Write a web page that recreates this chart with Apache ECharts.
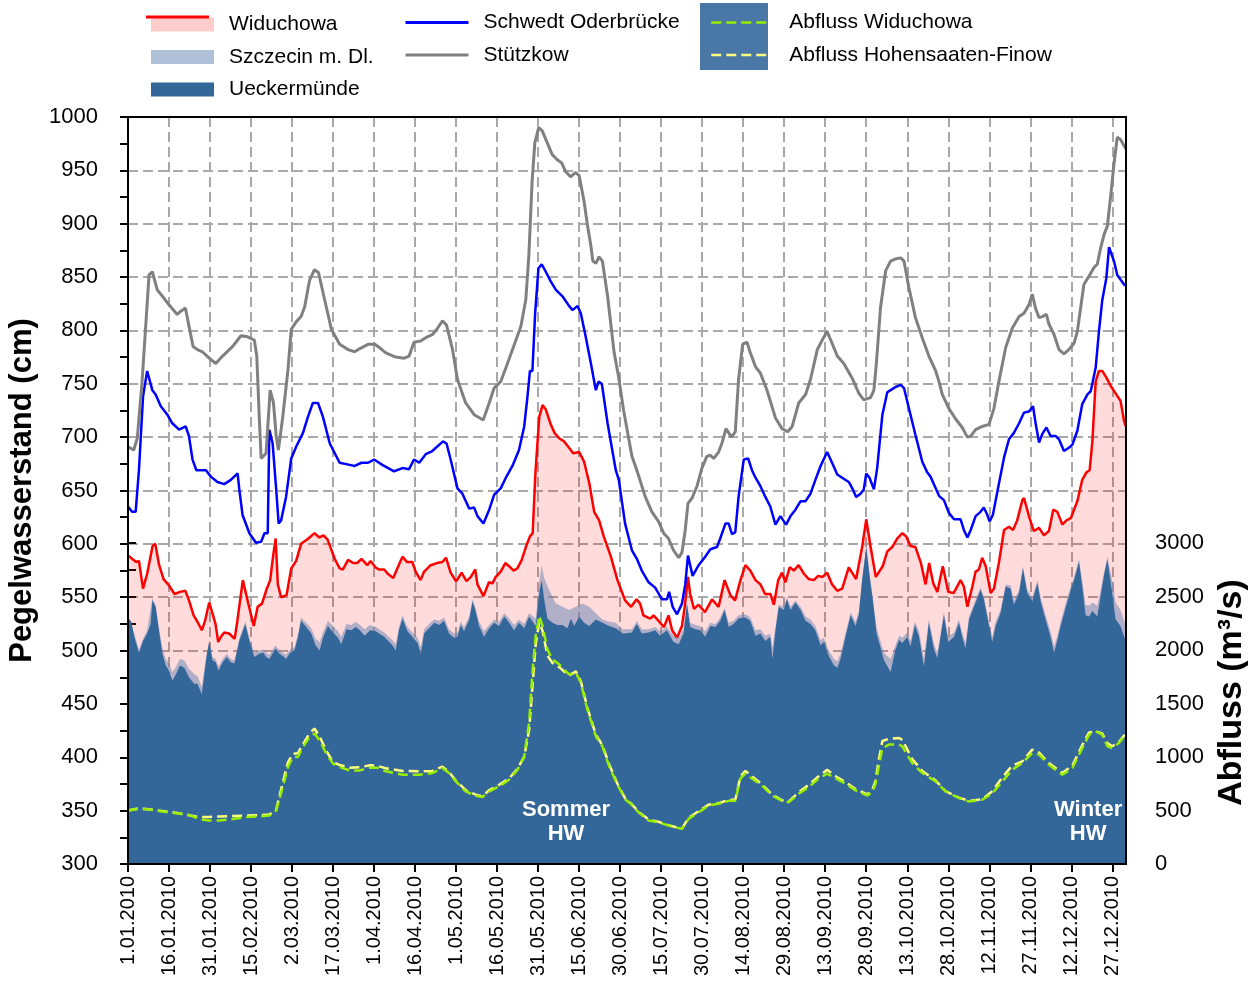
<!DOCTYPE html>
<html>
<head>
<meta charset="utf-8">
<script src="https://cdn.jsdelivr.net/npm/echarts@6/dist/echarts.min.js"></script>
<style>
html,body{margin:0;padding:0;background:#fff;}
#chart{width:1256px;height:983px;}
</style>
</head>
<body>
<div id="chart"></div>
<script>
// ---- Data (x = day of year 2010, 0 = 1 Jan) ----
const xTickStepDays = 15;
const legendNames = ['Widuchowa','Szczecin m. Dl.','Ueckermünde','Schwedt Oderbrücke','Stützkow','Abfluss Widuchowa','Abfluss Hohensaaten-Finow'];

// Pegelwasserstand (cm)
const widuchowa = [[0,589],[1.5,586],[3,583],[4,584],[5.5,558],[7,572],[9,598],[10,600],[11.3,581],[13,567],[15,561],[17,553],[19,555],[21,556],[22.3,547],[24,533],[25.4,527],[27,519],[28.2,528],[29.7,545],[31,534],[32,525],[33,508],[34,513],[35.2,517],[37,516],[39,511],[40,528],[42,566],[44,544],[46,523],[47.4,541],[49,544],[50.5,556],[52,566],[53.2,591],[54,605],[54.8,562],[56,550],[58,552],[59.7,577],[61.5,584],[63.3,600],[66,605],[68.2,610],[70,606],[71.5,608],[73,604],[75.6,586],[77.4,577],[78.6,576],[80.5,585],[82.3,582],[83.8,582],[85.4,586],[87.5,580],[88.7,584],[90.5,578],[91.8,576],[93.7,576],[95,572],[97,568],[99,580],[100.4,588],[102,583],[104,583],[105.2,574],[107,566],[108.3,574],[110.7,580],[113,582],[115,583],[116.3,587],[118,573],[120,565],[122,573],[123.8,565],[125.4,569],[127,576],[127.8,562],[130,551],[132,564],[133.3,563],[134.5,569],[136.3,574],[138,582],[139.4,579],[141,575],[142.4,577],[144,585],[145.5,597],[147,607],[148,610],[149,666],[150.4,719],[151.6,730],[152.8,726],[154.6,712],[156,704],[157.7,699],[159.5,696],[161.3,690],[162.8,685],[165,686],[166.8,677],[168.7,657],[170.5,630],[172.3,622],[174,607],[176.6,588],[179,566],[181.8,547],[184,541],[186,548],[187.3,544],[188.5,533],[191,530],[192.2,533],[194,528],[196,522],[197.7,533],[199,519],[200.8,512],[202.6,523],[203.6,541],[204.8,569],[205.6,553],[207,539],[208.7,543],[211,536],[213.6,548],[216,541],[218.2,566],[220.3,552],[222,547],[224,566],[225.8,580],[227.6,575],[229.5,566],[231.3,562],[233,553],[235,553],[236.2,543],[237.8,566],[239.2,573],[240.4,564],[242,578],[243.5,575],[245.3,580],[247.2,572],[249,567],[250.8,566],[252.4,570],[254,569],[255.7,573],[257.5,562],[259.4,556],[261.2,558],[263.6,578],[266.3,567],[268.5,597],[270,623],[271.6,597],[273.5,569],[276,579],[277.7,593],[279.5,597],[281.3,605],[283.2,610],[284.6,607],[286.2,598],[288,597],[290,582],[291.7,562],[293,582],[294.5,563],[296,555],[298,579],[300,555],[302,554],[304.5,566],[305.7,560],[307,541],[308.8,560],[310,574],[311.2,576],[312.4,587],[313.7,579],[315.5,554],[316.7,558],[318.5,582],[320.4,613],[322.2,616],[323.7,613],[325.2,622],[327.1,641],[327.7,643],[329.5,626],[331.3,612],[333.2,615],[335,608],[336.8,612],[338.4,632],[339.9,630],[341.7,618],[343.2,622],[344.8,624],[346,632],[347.2,640],[349,660],[350.5,667],[351.7,669],[352.7,696],[353.9,752],[355.1,762],[356.3,762],[357.8,756],[359.4,748],[361.2,741],[363,734],[364.3,715],[365,710]];

const szczecin = [[0,533],[2.4,515],[4,501],[5.5,511],[7,519],[8.9,549],[10.1,543],[11.3,522],[12.6,502],[13.8,492],[15,488],[16.2,480],[17.4,484],[19,492],[20.6,491],[22.3,483],[24.2,478],[25.4,476],[27,466],[27.9,482],[28.7,496],[29.7,510],[30.9,494],[32.1,492],[33.1,485],[34.6,492],[36.1,497],[37.6,492],[38.9,491],[40.7,511],[42.9,527],[44.4,512],[46.2,498],[48,500],[49.5,501],[50.5,498],[51.7,496],[53.9,505],[55.4,500],[56.6,498],[57.8,496],[59.3,501],[60.9,503],[62.1,515],[63.3,531],[65.2,526],[67,521],[68.6,511],[70.1,508],[71.3,517],[73.1,528],[75,523],[76.8,518],[78,513],[79.9,525],[81.7,524],[83.3,527],[84.8,524],[86.6,520],[88.5,524],[90.6,522],[93.7,517],[96.7,510],[97.9,506],[99.1,522],[100.4,533],[102.2,522],[104,517],[105.9,512],[107.1,503],[108.3,520],[110.1,525],[112,529],[113.8,528],[115.6,531],[117.4,520],[119.3,516],[120.5,517],[121.7,527],[122.9,522],[124.8,532],[126,548],[127,541],[128.4,527],[130.2,518],[132.1,524],[133.9,529],[135.7,527],[137.6,535],[139.4,530],[141.2,524],[143,529],[144.9,525],[146.7,535],[149.1,530],[150.6,568],[151.3,580],[152.2,568],[154,557],[156.5,544],[158.9,541],[161.3,538],[163.8,541],[166.2,544],[168.7,541],[171.1,535],[173.5,529],[176,527],[178.4,526],[180.9,520],[184.3,520],[186.1,528],[187.9,520],[190.4,520],[192.8,522],[194.6,518],[197.1,522],[199.5,514],[201.4,512],[203.2,520],[204.4,546],[205.6,526],[207.5,524],[209.3,523],[211.1,518],[213,526],[214.8,525],[216.6,531],[218.2,540],[219.7,526],[221.5,528],[223.3,533],[225.8,534],[227.6,531],[229.5,519],[231.3,520],[233.1,514],[234.9,516],[235.7,503],[236.8,522],[238,543],[239.8,541],[241,550],[242.3,541],[244.1,547],[246,541],[247.8,532],[249.6,529],[251.4,523],[253.3,510],[254.5,512],[256.3,500],[258.2,492],[259.4,490],[260.6,497],[262.4,516],[264.3,536],[266.1,527],[267.3,537],[268.5,568],[270,598],[271.2,572],[272.5,548],[273.8,521],[276.5,498],[278.9,492],[280.7,505],[282,514],[283.2,512],[285,517],[286.2,509],[287.8,527],[289.3,518],[291.1,492],[292.9,529],[294.8,506],[296,498],[298.4,536],[300,513],[302.1,517],[303.9,529],[305.1,517],[306.3,507],[307.6,532],[309.4,544],[311.8,559],[313,551],[314.9,527],[316.1,513],[317.3,527],[319.1,538],[321,562],[322.8,561],[324,547],[325.9,557],[327.3,579],[328.9,557],[330.7,550],[332.6,566],[333.8,550],[335.6,533],[337.4,518],[338.7,504],[339.9,514],[341.1,527],[342.9,544],[344.8,560],[346,569],[347.8,586],[349,566],[350.2,543],[351.5,542],[352.7,545],[354.5,542],[355.7,556],[357,574],[358.2,588],[359.8,568],[361.2,545],[363,538],[364.3,528],[365,525]];

const ueckermuende = [[0,531],[1.2,527],[2.4,512],[4,498],[5.5,509],[7,516],[8.3,525],[8.9,547],[10.1,541],[11.3,519],[12.6,497],[13.8,486],[15,481],[16.2,472],[17.4,477],[19,486],[20.6,484],[22.3,475],[24.2,469],[25.4,469],[27,459],[27.9,478],[28.7,494],[29.7,508],[30.9,491],[32.1,489],[33.1,481],[34.6,489],[36.1,494],[37.6,489],[38.9,488],[40.7,509],[42.9,525],[44.4,509],[46.2,494],[48,497],[49.5,498],[50.5,494],[51.7,492],[53.9,502],[55.4,497],[56.6,495],[57.8,492],[59.3,498],[60.9,500],[62.1,512],[63.3,528],[65.2,522],[67,516],[68.6,505],[70.1,500],[71.3,512],[73.1,523],[75,517],[76.8,512],[78,506],[79.9,520],[81.7,519],[83.3,522],[84.8,519],[86.6,514],[88.5,519],[90.6,518],[93.7,513],[96.7,505],[97.9,500],[99.1,519],[100.4,530],[102.2,518],[104,513],[105.9,507],[107.1,497],[108.3,516],[110.1,521],[112,526],[113.8,524],[115.6,528],[117.4,516],[119.3,512],[120.5,513],[121.7,524],[122.9,518],[124.8,529],[126,546],[127,538],[128.4,523],[130.2,513],[132.1,521],[133.9,526],[135.7,523],[137.6,532],[139.4,526],[141.2,519],[143,526],[144.9,521],[146.7,532],[149.1,523],[150.6,557],[151.3,566],[152.2,548],[153.4,530],[155.2,526],[157.1,524],[158.9,524],[160.7,521],[162,530],[163.2,523],[165,532],[166.8,526],[168.7,523],[171.1,529],[173.5,526],[176,523],[178.4,521],[180.9,516],[181.8,516],[184.3,517],[186.1,525],[187.9,516],[190.4,517],[192.8,519],[194.6,514],[197.1,519],[199.5,508],[201.4,506],[203.2,516],[204.4,544],[205.6,522],[207.5,520],[209.3,519],[211.1,513],[213,523],[214.8,522],[216.6,528],[218.2,538],[219.7,522],[221.5,525],[223.3,530],[225.8,531],[227.6,528],[229.5,514],[231.3,516],[233.1,509],[234.9,513],[235.7,492],[236.8,519],[238,541],[239.8,538],[241,548],[242.3,538],[244.1,545],[246,538],[247.8,528],[249.6,525],[251.4,519],[253.3,505],[254.5,508],[256.3,495],[258.2,486],[259.4,484],[260.6,492],[262.4,513],[264.3,533],[266.1,523],[267.3,534],[268.5,566],[270,597],[271.2,570],[272.5,545],[273.8,516],[276.5,491],[278.9,480],[280.7,501],[282,510],[283.2,507],[285,513],[286.2,504],[287.8,524],[289.3,513],[291.1,485],[292.9,526],[294.8,501],[296,493],[298.4,533],[300,508],[302.1,513],[303.9,526],[305.1,513],[306.3,502],[307.6,529],[309.4,541],[311.8,557],[313,548],[314.9,523],[316.1,508],[317.3,523],[319.1,535],[321,560],[322.8,558],[324,543],[325.9,554],[327.3,577],[328.9,554],[330.7,546],[332.6,563],[333.8,546],[335.6,529],[337.4,513],[338.7,498],[339.9,510],[341.1,523],[342.9,540],[344.8,557],[346,566],[347.8,583],[349,560],[350.2,533],[351.5,532],[352.7,537],[354.5,532],[355.7,551],[357,571],[358.2,585],[359.8,557],[361.2,529],[363,523],[364.3,513],[365,510]];

const schwedt = [[0,635],[1.5,630],[2.8,630],[4,669],[5.5,738],[7,762],[8.9,744],[10.1,740],[12,729],[14.4,721],[16.2,713],[18.7,707],[21.1,710],[22.3,701],[23.6,679],[25,669],[28.5,669],[30.3,663],[32.7,658],[35.2,656],[37.6,660],[40.1,666],[40.7,651],[41.9,627],[44.4,610],[46.8,601],[48.7,602],[49.9,610],[51.1,610],[51.7,707],[52.9,694],[54.2,651],[55.1,619],[56,622],[57.8,644],[59.7,680],[61.5,691],[64,704],[65.8,719],[67.6,732],[69.5,732],[71.3,719],[73.8,694],[77.4,676],[81.1,674],[82.9,673],[85.4,676],[87.8,676],[90,679],[93,674],[97.3,668],[100.4,671],[102.8,670],[104.6,679],[106.5,676],[108.9,684],[111.3,687],[115.2,696],[116.5,694],[118,679],[120.5,652],[122.3,647],[124.8,633],[126.6,634],[127.8,626],[130,619],[132.1,632],[133.9,646],[136.3,652],[138.2,662],[140.6,673],[143,688],[144.9,710],[146.1,738],[147,762],[147.9,762],[148.9,816],[150.1,858],[151.3,862],[152.8,855],[154.6,846],[156.5,838],[158.9,832],[161.3,823],[162.6,819],[164.4,823],[165.6,816],[167.4,794],[169.3,769],[171.1,744],[172.1,752],[173.3,750],[175.4,713],[178.4,669],[179.5,660],[181.8,619],[184.3,594],[186.1,586],[187.9,575],[190.4,564],[192.8,559],[195.3,548],[197.1,548],[197.9,555],[199.2,541],[200.8,534],[202.6,544],[203.8,562],[204.8,589],[206.5,570],[208.7,580],[211.1,588],[213,595],[215.4,597],[216.6,605],[218.5,619],[219.7,619],[220.9,609],[222.1,611],[223.3,644],[225.2,679],[226.8,680],[228.2,669],[229.5,662],[231.3,654],[233.1,644],[234.9,635],[236.8,618],[238.6,626],[240.7,618],[242.3,626],[244.1,632],[246,640],[247.8,640],[249.6,647],[251.4,660],[253.3,673],[255.7,686],[257.5,676],[259.4,665],[261.2,662],[263.6,658],[264.9,652],[266.3,644],[267.9,647],[269.1,651],[270,666],[271.2,662],[272.8,651],[274,671],[275.9,721],[277.7,742],[279.5,745],[280.7,747],[282.6,749],[283.8,746],[285.6,727],[288,702],[290.5,677],[292.3,667],[293.5,663],[295.4,652],[296.6,645],[298.4,641],[300.2,629],[302.1,623],[304.5,623],[305.7,613],[307,606],[308.2,613],[310,626],[311.8,630],[313,634],[314.3,627],[315.1,621],[316.3,627],[318.5,656],[320.4,681],[322.2,698],[324,704],[325.9,713],[327.7,723],[329.5,724],[331,729],[332,712],[333.2,695],[334.4,703],[335.9,709],[337.4,701],[339.3,701],[340.5,698],[342.3,687],[344.1,690],[345.4,693],[347.2,706],[349,731],[350.9,740],[352.1,743],[353.9,765],[355.1,799],[356.3,828],[357.8,849],[358.8,878],[359.4,879],[360.6,865],[361.8,852],[364.3,843],[365,842]];

const stuetzkow = [[0,691],[2.1,688],[3.4,699],[5.2,754],[7.7,852],[8.9,855],[10.7,838],[12.6,832],[15,824],[18,815],[19.3,818],[21,821],[22.3,804],[23.8,785],[25.4,782],[27.2,780],[29.7,774],[32.1,769],[34.6,776],[38.3,785],[41.3,795],[43.8,794],[46.2,791],[47.1,776],[48,719],[48.7,680],[50.5,685],[51.1,685],[52,744],[53.2,732],[54.2,701],[55,688],[56.6,719],[58.5,763],[59.7,801],[61.5,808],[63.3,813],[64.6,822],[66.4,847],[68.2,857],[69.7,854],[71.9,829],[74.4,801],[77.4,787],[80.5,782],[82.9,780],[84.8,783],[87.8,787],[90.3,787],[92.4,783],[94.3,779],[97.9,775],[101,774],[102.8,776],[104.6,789],[107,790],[109.5,794],[111.3,796],[113.2,802],[115,809],[116.5,805],[118.7,782],[120.5,754],[123.5,732],[126.6,721],[129.9,716],[132.1,732],[133.9,746],[136.3,752],[138.2,765],[140.6,782],[143.7,804],[145.5,829],[146.6,870],[147.8,940],[148.8,976],[150.2,990],[151.5,987],[153.3,976],[155.1,965],[157,960],[158.6,957],[160,949],[161.9,944],[163.7,948],[165,945],[166.8,921],[168,899],[169.2,881],[170,865],[171.1,863],[172.3,869],[173.5,865],[175.4,832],[177.8,779],[179.4,757],[181.2,726],[184.3,682],[186.1,669],[189.2,644],[191.6,630],[194,621],[195.9,610],[197.7,605],[199.5,594],[201.4,587],[202.6,592],[203.8,613],[204.8,638],[206.3,643],[208.1,654],[209.9,671],[211.7,682],[213,683],[214.2,680],[216,686],[217.2,694],[218.7,708],[220.7,700],[222.1,705],[223.3,754],[224.8,787],[226.4,789],[227.6,779],[229.5,766],[231.3,760],[233.7,744],[236.8,718],[239.2,708],[241.3,705],[242.9,710],[245.3,732],[247.8,740],[249.6,754],[252.1,782],[253.9,791],[255.7,799],[257.5,788],[259.4,776],[261.8,769],[264.9,755],[267.3,741],[269.1,735],[271.6,737],[272.8,744],[273.7,769],[275.2,821],[277.1,856],[278.9,865],[280.7,867],[282.6,868],[283.8,865],[285.6,840],[288,812],[290.5,793],[292.9,776],[295.4,762],[296.6,752],[297.8,740],[300.2,727],[302.7,717],[305.1,709],[307,700],[308.2,701],[310,707],[312.4,710],[314.9,712],[316.7,727],[318.5,752],[321,784],[323.4,802],[325.9,813],[327.7,816],[329.5,824],[330.7,834],[332,820],[333.2,812],[334.4,813],[335.9,815],[336.8,806],[338.7,796],[340.5,782],[342.3,778],[344.1,782],[346,788],[347.2,799],[348.4,821],[349.6,843],[351.5,851],[353.3,859],[354.5,862],[355.7,877],[357,890],[358.2,898],[359.4,926],[360.6,956],[361.8,981],[363,979],[364.3,973],[365,970]];

// Abfluss (m³/s)
const abflussWiduchowa = [[0,500],[4,516],[7.7,510],[12.6,490],[17.4,475],[22.3,460],[26,420],[29.7,406],[33.4,406],[38.3,420],[43.2,440],[48,444],[51.7,453],[54.2,500],[56.6,719],[58.5,906],[60.3,1000],[62.1,1000],[64,1094],[66.4,1188],[68.2,1219],[70.1,1156],[72.5,1031],[75,938],[77.4,906],[81.1,875],[84.8,875],[88.5,900],[91,900],[94.3,866],[100.4,834],[106.5,834],[111.3,850],[115,897],[117.4,850],[119.9,772],[123.5,678],[127.2,638],[129.6,625],[132.1,678],[135.7,725],[139.4,788],[142.4,880],[144.9,1006],[146.7,1319],[147.9,1788],[149.1,2131],[150.4,2319],[151.6,2225],[153.4,2006],[155.2,1912],[157.7,1866],[161.3,1772],[163.8,1788],[165.6,1694],[168,1444],[171.1,1194],[173.5,1100],[176,912],[179,740],[182,600],[184,560],[186.7,484],[190.4,406],[194,390],[197.7,359],[202.6,328],[205,422],[208.7,484],[212.4,547],[216,563],[219.7,590],[222.1,590],[224,800],[225.8,844],[228.2,800],[231.9,734],[235.5,640],[239.2,590],[241.7,578],[245.3,656],[249,719],[252.6,800],[255.7,844],[258.8,800],[262.4,750],[266.1,688],[270.4,640],[272.2,672],[273.4,750],[274.5,900],[275.9,1084],[278.3,1116],[282,1116],[283.2,1100],[286.8,944],[290.5,850],[295.4,772],[299,678],[303.9,616],[307.6,584],[312.4,600],[316.1,660],[319.8,772],[323.4,881],[327.1,944],[330.7,1038],[333.2,1022],[336.8,928],[341.7,834],[345.4,897],[348.4,1053],[351.5,1209],[353.9,1240],[356.3,1209],[358.2,1100],[360,1084],[362.4,1131],[364.3,1194],[365,1200]];

const abflussHohensaaten = [[0,500],[4,520],[7.7,512],[12.6,495],[17.4,480],[22.3,455],[26,440],[29.7,440],[33.4,445],[38.3,448],[43.2,452],[48,456],[51.7,462],[54.2,510],[56.6,760],[58.5,950],[60.3,1030],[62.1,1035],[64,1120],[66.4,1220],[68.2,1266],[70.1,1190],[72.5,1060],[75,950],[77.4,925],[81.1,900],[84.8,905],[88.5,922],[91,918],[94.3,895],[100.4,870],[106.5,866],[111.3,870],[115,910],[117.4,860],[119.9,780],[123.5,690],[127.2,648],[129.6,632],[132.1,690],[135.7,740],[139.4,800],[142.4,890],[144.9,1000],[146.7,1250],[147.9,1650],[149.1,2050],[150.4,2260],[151.6,2180],[153.4,1950],[155.2,1880],[157.7,1840],[161.3,1760],[163.8,1800],[165.6,1710],[168,1460],[171.1,1210],[173.5,1110],[176,930],[179,750],[182,605],[184,565],[186.7,490],[190.4,415],[194,395],[197.7,362],[202.6,330],[205,430],[208.7,495],[212.4,555],[216,568],[219.7,600],[222.1,600],[224,820],[225.8,870],[228.2,820],[231.9,745],[235.5,650],[239.2,595],[241.7,585],[245.3,670],[249,740],[252.6,820],[255.7,880],[258.8,820],[262.4,765],[266.1,700],[270.4,650],[272.2,690],[273.4,780],[274.5,960],[275.9,1150],[278.3,1170],[282,1178],[283.2,1160],[286.8,980],[290.5,870],[295.4,780],[299,680],[303.9,620],[307.6,590],[312.4,605],[316.1,680],[319.8,810],[323.4,920],[327.1,960],[330.7,1069],[333.2,1040],[336.8,945],[341.7,850],[345.4,920],[348.4,1080],[351.5,1230],[353.9,1240],[356.3,1220],[358.2,1130],[360,1100],[362.4,1140],[364.3,1200],[365,1205]];

// ---- Chart ----
const FONT = "'Liberation Sans', Arial, sans-serif";
const DAY0 = Date.UTC(2010, 0, 1);
function dayLabel(v) {
  const d = new Date(DAY0 + Math.round(v) * 86400000);
  return d.getUTCDate() + '.' + String(d.getUTCMonth() + 1).padStart(2, '0') + '.' + d.getUTCFullYear();
}
const plainNum = v => String(v);
const gridLine = { show: true, lineStyle: { color: '#A8A8A8', width: 2, type: [10, 5] } };
const blackAxis = { show: true, lineStyle: { color: '#000', width: 2 } };

const chart = echarts.init(document.getElementById('chart'), null, { renderer: 'canvas' });
const legendText = { fontFamily: FONT, fontSize: 21, color: '#000' };

chart.setOption({
  animation: false,
  backgroundColor: '#fff',
  textStyle: { fontFamily: FONT },
  grid: [
    { left: 128, right: 130, top: 117, bottom: 119, show: true, borderColor: '#000', borderWidth: 2, backgroundColor: 'transparent', z: 10, containLabel: false, outerBoundsMode: 'none' },
    { left: 128, right: 130, top: 543, bottom: 119, show: false, containLabel: false, outerBoundsMode: 'none' }
  ],
  legend: [
    { left: 146, top: 9, orient: 'vertical', itemWidth: 63, itemHeight: 14, itemGap: 11.5, z: 10,
      textStyle: Object.assign({ padding: [0, 0, 0, 10] }, legendText),
      data: [
        { name: legendNames[0], icon: 'rect', itemStyle: { color: '#FFCCCC' } },
        { name: legendNames[1], icon: 'rect', itemStyle: { color: 'rgba(100,130,180,0.5)' } },
        { name: legendNames[2], icon: 'rect', itemStyle: { color: '#336699' } }
      ] },
    { left: 399, top: 7, orient: 'vertical', itemWidth: 63, itemHeight: 14, itemGap: 11.5, z: 10,
      itemStyle: { opacity: 0 }, lineStyle: { width: 3 },
      textStyle: Object.assign({ padding: [4, 0, 0, 10] }, legendText),
      data: [legendNames[3], legendNames[4]] },
    { left: 705, top: 7, orient: 'vertical', itemWidth: 58, itemHeight: 14, itemGap: 11.5, z: 10,
      itemStyle: { opacity: 0 }, lineStyle: { width: 2.5 },
      textStyle: Object.assign({ padding: [4, 0, 0, 15] }, legendText),
      data: [legendNames[5], legendNames[6]] }
  ],
  xAxis: [
    { gridIndex: 0, type: 'value', min: 0, max: 365, interval: xTickStepDays,
      axisLine: blackAxis, axisTick: { show: true, inside: false, length: 8, lineStyle: { color: '#000', width: 2 } },
      axisLabel: { rotate: 90, fontSize: 20, color: '#000', margin: 12, formatter: dayLabel, showMaxLabel: false },
      splitLine: gridLine },
    { gridIndex: 1, type: 'value', min: 0, max: 365, show: false }
  ],
  yAxis: [
    { gridIndex: 0, type: 'value', min: 300, max: 1000, interval: 50, position: 'left',
      name: 'Pegelwasserstand (cm)', nameLocation: 'middle', nameGap: 86, nameRotate: 90,
      nameTextStyle: { fontSize: 31, fontWeight: 'bold', color: '#000', fontFamily: FONT },
      axisLine: blackAxis,
      axisTick: { show: true, inside: false, length: 8, lineStyle: { color: '#000', width: 2 } },
      minorTick: { show: true, splitNumber: 2, length: 8, lineStyle: { color: '#000', width: 2 } },
      axisLabel: { fontSize: 22, color: '#000', margin: 30, formatter: plainNum },
      splitLine: gridLine },
    { gridIndex: 1, type: 'value', min: 0, max: 3000, interval: 500, position: 'right',
      name: 'Abfluss (m³/s)', nameLocation: 'middle', nameGap: 88, nameRotate: 90,
      nameTextStyle: { fontSize: 34, fontWeight: 'bold', color: '#000', fontFamily: FONT, padding: [0, 0, 0, 22] },
      axisLine: blackAxis,
      axisTick: { show: true, inside: false, length: 8, lineStyle: { color: '#000', width: 2 } },
      minorTick: { show: true, splitNumber: 2, length: 8, lineStyle: { color: '#000', width: 2 } },
      axisLabel: { fontSize: 22, color: '#000', margin: 29, formatter: plainNum },
      splitLine: { show: false } }
  ],
  series: [
    { name: legendNames[0], type: 'line', xAxisIndex: 0, yAxisIndex: 0, data: widuchowa, symbol: 'none', z: 2,
      lineStyle: { color: '#FF0000', width: 2.5 }, itemStyle: { color: '#FF0000' },
      areaStyle: { color: 'rgba(255,0,0,0.2)', origin: 'start' } },
    { name: legendNames[1], type: 'line', xAxisIndex: 0, yAxisIndex: 0, data: szczecin, symbol: 'none', z: 3,
      lineStyle: { width: 0 }, itemStyle: { color: 'rgba(100,130,180,0.5)' },
      areaStyle: { color: 'rgba(100,130,180,0.5)', origin: 'start', opacity: 1 } },
    { name: legendNames[2], type: 'line', xAxisIndex: 0, yAxisIndex: 0, data: ueckermuende, symbol: 'none', z: 4,
      lineStyle: { width: 0 }, itemStyle: { color: '#336699' },
      areaStyle: { color: '#336699', origin: 'start', opacity: 1 } },
    { name: legendNames[3], type: 'line', xAxisIndex: 0, yAxisIndex: 0, data: schwedt, symbol: 'none', z: 6,
      lineStyle: { color: '#0000FF', width: 2.5 }, itemStyle: { color: '#0000FF' } },
    { name: legendNames[4], type: 'line', xAxisIndex: 0, yAxisIndex: 0, data: stuetzkow, symbol: 'none', z: 6,
      lineStyle: { color: '#808080', width: 3 }, itemStyle: { color: '#808080' } },
    { name: legendNames[5], type: 'line', xAxisIndex: 1, yAxisIndex: 1, data: abflussWiduchowa, symbol: 'none', z: 8,
      lineStyle: { color: '#99EE00', width: 2.5, type: [10, 5] }, itemStyle: { color: '#99EE00' } },
    { name: legendNames[6], type: 'line', xAxisIndex: 1, yAxisIndex: 1, data: abflussHohensaaten, symbol: 'none', z: 7,
      lineStyle: { color: '#FFFF80', width: 2.5, type: [10, 5] }, itemStyle: { color: '#FFFF80' } }
  ],
  graphic: [
    { type: 'rect', left: 700, top: 3, z: 0, shape: { width: 68, height: 67 }, style: { fill: '#4A78A6' } },
    { type: 'line', z: 20, shape: { x1: 146, y1: 17, x2: 209, y2: 17 }, style: { stroke: '#FF0000', lineWidth: 3 } },
    { type: 'text', z: 20, left: 522, top: 798, style: { text: 'Sommer\nHW', fill: '#fff', font: "bold 22px 'Liberation Sans', Arial, sans-serif", textAlign: 'center', lineHeight: 24 } },
    { type: 'text', z: 20, left: 1054, top: 798, style: { text: 'Winter\nHW', fill: '#fff', font: "bold 22px 'Liberation Sans', Arial, sans-serif", textAlign: 'center', lineHeight: 24 } }
  ]
});
</script>
</body>
</html>
